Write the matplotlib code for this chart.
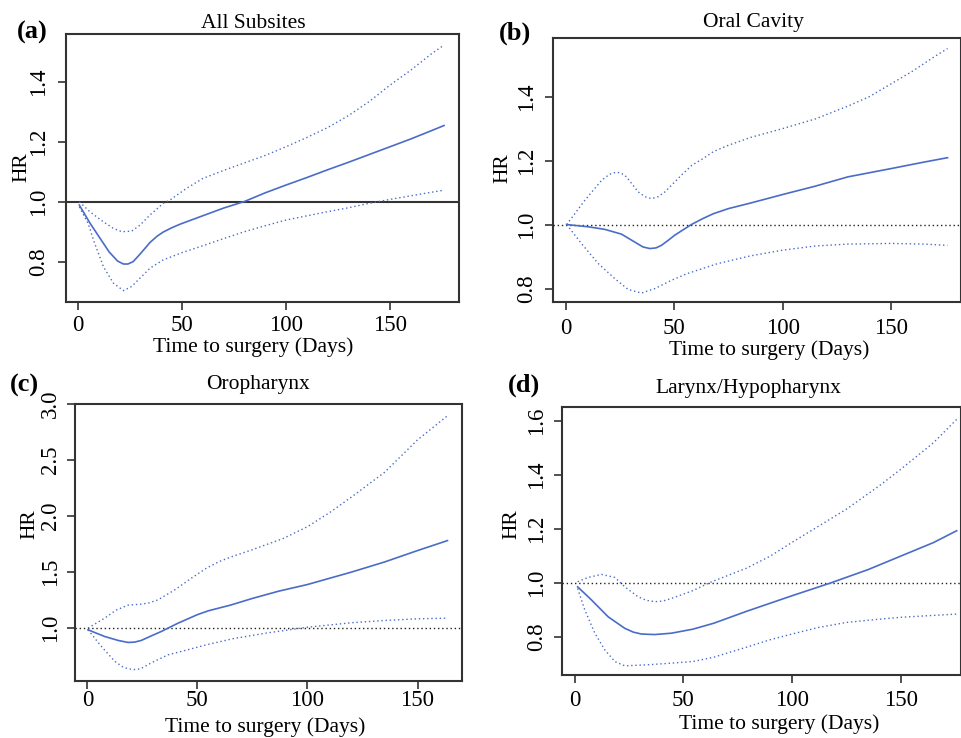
import matplotlib
matplotlib.use('Agg')
import matplotlib.pyplot as plt

plt.rcParams['font.family'] = ['Liberation Serif', 'DejaVu Serif']
plt.rcParams['font.size'] = 15.5

W, H = 962, 738
BLUE = '#4a6cc8'

# Panel (a) All Subsites
a_x = [0.6, 5.8, 12.2, 15, 19, 21.8, 24, 26.5, 29.8, 34.6, 38, 41, 45, 49, 58.7, 70, 80, 90, 100, 110,
       120, 130, 140, 150, 160, 170, 176]
a_hr = [0.989, 0.928, 0.861, 0.832, 0.802, 0.792, 0.792, 0.80, 0.825, 0.864, 0.885, 0.899, 0.913, 0.925,
        0.95, 0.979, 1.001, 1.03, 1.056, 1.081, 1.107, 1.132, 1.158, 1.184, 1.21, 1.238, 1.255]
a_up_x = [0.6, 5.8, 12.2, 17, 21, 25.8, 29.8, 34.6, 41, 44.2, 52.2, 60, 70, 80, 90, 100, 110, 120, 130,
          140, 150, 160, 170, 176]
a_up = [1.0, 0.966, 0.933, 0.911, 0.9, 0.902, 0.922, 0.956, 0.995, 1.006, 1.045, 1.078, 1.105, 1.13,
        1.155, 1.184, 1.215, 1.248, 1.288, 1.335, 1.39, 1.44, 1.495, 1.524]
a_lo_x = [0.6, 4.8, 8, 12.2, 17, 21.8, 25.8, 29.8, 34.6, 41, 50, 60, 70, 80, 90, 100, 110, 120, 130, 140,
          150, 160, 170, 176]
a_lo = [0.983, 0.928, 0.861, 0.783, 0.728, 0.703, 0.717, 0.745, 0.778, 0.806, 0.83, 0.853, 0.877, 0.9,
        0.92, 0.939, 0.953, 0.967, 0.98, 0.995, 1.008, 1.02, 1.032, 1.039]

# Panel (b) Oral Cavity
b_x = [0.3, 10.3, 17.9, 25.6, 31.8, 35.5, 38.7, 41.5, 44, 47, 50.2, 57.8, 63.2, 68, 75, 85, 100, 115,
       130, 150, 165, 176]
b_hr = [1.0, 0.993, 0.985, 0.97, 0.945, 0.93, 0.925, 0.927, 0.935, 0.95, 0.967, 1.0, 1.019, 1.034,
        1.05, 1.067, 1.094, 1.12, 1.149, 1.175, 1.195, 1.209]
b_up_x = [0.3, 8.7, 16.4, 20, 23.3, 25.6, 27.9, 33.3, 36.5, 39.4, 42.5, 45.6, 53.2, 58, 63.2, 68, 75,
          85, 100, 115, 130, 140, 150, 160, 170, 176]
b_up = [1.0, 1.076, 1.138, 1.157, 1.164, 1.16, 1.149, 1.102, 1.087, 1.081, 1.087, 1.102, 1.154, 1.185,
        1.206, 1.228, 1.248, 1.272, 1.30, 1.33, 1.37, 1.40, 1.44, 1.48, 1.525, 1.55]
b_lo_x = [0.3, 7.2, 14.9, 22.5, 28.7, 34.8, 41, 48.7, 56, 63.2, 70, 85, 100, 115, 130, 150, 165, 176]
b_lo = [1.0, 0.94, 0.878, 0.831, 0.797, 0.786, 0.80, 0.826, 0.847, 0.863, 0.878, 0.902, 0.92, 0.933,
        0.939, 0.941, 0.939, 0.935]

# Panel (c) Oropharynx
c_x = [0.3, 7.9, 14, 18.5, 21.5, 24.5, 29, 33.6, 41.2, 50, 54.9, 60, 65, 75, 87, 100, 120, 135, 150,
       163.6]
c_hr = [0.985, 0.925, 0.89, 0.872, 0.875, 0.89, 0.93, 0.97, 1.044, 1.12, 1.154, 1.18, 1.205, 1.265, 1.33,
        1.389, 1.5, 1.59, 1.692, 1.781]
c_up_x = [0.3, 7.9, 13, 18.5, 24.7, 28, 32.1, 39.7, 47.3, 54.1, 60, 66, 75, 89, 100, 110, 120, 135, 150,
          163.3]
c_up = [1.0, 1.089, 1.16, 1.205, 1.214, 1.225, 1.252, 1.341, 1.446, 1.535, 1.595, 1.64, 1.70, 1.80,
        1.905, 2.03, 2.17, 2.39, 2.68, 2.89]
c_lo_x = [0.3, 6.4, 12.5, 16, 18.5, 21.3, 24.2, 29.1, 36.7, 44.3, 54.1, 66, 81, 100, 120, 135, 150, 163.3]
c_lo = [0.985, 0.836, 0.703, 0.655, 0.637, 0.63, 0.637, 0.69, 0.762, 0.80, 0.851, 0.905, 0.955, 1.008,
        1.048, 1.068, 1.083, 1.089]

# Panel (d) Larynx/Hypopharynx
d_x = [1.4, 7.8, 15.4, 23.1, 27, 30.7, 36.8, 44.5, 54.4, 64, 79, 100, 117.6, 135, 150, 165, 175.7]
d_hr = [0.986, 0.937, 0.875, 0.832, 0.818, 0.811, 0.809, 0.814, 0.829, 0.851, 0.895, 0.953, 1.0, 1.05,
        1.10, 1.15, 1.194]
d_up_x = [1.4, 6.2, 12.4, 18.5, 23.1, 29.2, 33, 36.8, 40.5, 44.5, 54.4, 62.5, 79, 90, 100, 112, 125,
          140, 150, 165, 175.7]
d_up = [1.005, 1.021, 1.032, 1.021, 0.986, 0.949, 0.936, 0.931, 0.933, 0.943, 0.972, 1.003, 1.055, 1.10,
        1.151, 1.21, 1.274, 1.36, 1.422, 1.52, 1.607]
d_lo_x = [1.4, 4.7, 9.3, 13.9, 18.5, 23.1, 33.8, 44.5, 54.4, 64, 79, 90, 100, 112, 125, 140, 150, 165,
          175.7]
d_lo = [0.98, 0.9, 0.814, 0.752, 0.709, 0.693, 0.697, 0.703, 0.709, 0.725, 0.762, 0.79, 0.811, 0.835,
        0.854, 0.866, 0.873, 0.88, 0.885]

x_ticks = [0, 50, 100, 150]


def fx(px):
    return px / W


def fy(py):
    return 1 - py / H


def panel(box, xlim, ylim, yticks, ytick_labels, curves, solid_ref,
          letter, letter_pos, title, title_pos, hr_pos, xl_pos, xpad, ypad):
    left, top, right, bottom = box
    ax = fig.add_axes([fx(left), fy(bottom), (right - left) / W, (bottom - top) / H])
    x, hr, upx, up, lox, lo = curves
    if solid_ref:
        ax.axhline(1.0, color='#333333', lw=1.5)
    else:
        ax.axhline(1.0, color='#222222', lw=1.0, ls=(0, (1, 2)))
    ax.plot(x, hr, color=BLUE, lw=1.2)
    ax.plot(upx, up, color=BLUE, lw=1.0, ls=(0, (1, 2)))
    ax.plot(lox, lo, color=BLUE, lw=1.0, ls=(0, (1, 2)))
    ax.set_xlim(*xlim)
    ax.set_ylim(*ylim)
    ax.set_xticks(x_ticks)
    ax.set_xticklabels([str(t) for t in x_ticks], fontsize=16.5)
    ax.set_yticks(yticks)
    ax.set_yticklabels(ytick_labels, rotation=90, va='center', fontsize=16.5)
    ax.tick_params(direction='out', length=6, width=1.2, color='#333333')
    ax.tick_params(axis='x', pad=xpad)
    ax.tick_params(axis='y', pad=ypad)
    for s in ax.spines.values():
        s.set_color('#333333')
        s.set_linewidth(1.5)
    fig.text(fx(letter_pos[0]), fy(letter_pos[1]), letter, fontsize=19, fontweight='bold',
             ha='center', va='center')
    fig.text(fx(title_pos[0]), fy(title_pos[1]), title, ha='center', va='center')
    fig.text(fx(hr_pos[0]), fy(hr_pos[1]), 'HR', rotation=90, ha='center', va='center')
    fig.text(fx(xl_pos[0]), fy(xl_pos[1]), 'Time to surgery (Days)', ha='center', va='center')
    return ax


fig = plt.figure(figsize=(9.62, 7.38), dpi=100)

panel((66, 34, 459, 302), (-5.8, 183.2), (0.665, 1.561),
      [0.8, 1.0, 1.2, 1.4], ['0.8', '1.0', '1.2', '1.4'],
      (a_x, a_hr, a_up_x, a_up, a_lo_x, a_lo), True,
      '(a)', (32, 32), 'All Subsites', (253, 24), (22, 167), (253, 347), 3.5, 6)

panel((553, 38, 961, 302), (-6.0, 182.2), (0.758, 1.583),
      [0.8, 1.0, 1.2, 1.4], ['0.8', '1.0', '1.2', '1.4'],
      (b_x, b_hr, b_up_x, b_up, b_lo_x, b_lo), False,
      '(b)', (515, 33), 'Oral Cavity', (753, 22), (503, 168), (769, 350), 5.5, 5.4)

panel((75, 404, 462, 681), (-5.6, 170.2), (0.528, 3.0),
      [1.0, 1.5, 2.0, 2.5, 3.0], ['1.0', '1.5', '2.0', '2.5', '3.0'],
      (c_x, c_hr, c_up_x, c_up, c_lo_x, c_lo), False,
      '(c)', (24, 385), 'Oropharynx', (258, 385), (30, 524), (265, 727), 0.5, 4)

panel((562, 407, 961, 675), (-5.8, 177.7), (0.659, 1.653),
      [0.8, 1.0, 1.2, 1.4, 1.6], ['0.8', '1.0', '1.2', '1.4', '1.6'],
      (d_x, d_hr, d_up_x, d_up, d_lo_x, d_lo), False,
      '(d)', (524, 385), 'Larynx/Hypopharynx', (748, 388), (512, 524), (779, 724), 5, 4.7)

fig.savefig('out.png', dpi=100)
